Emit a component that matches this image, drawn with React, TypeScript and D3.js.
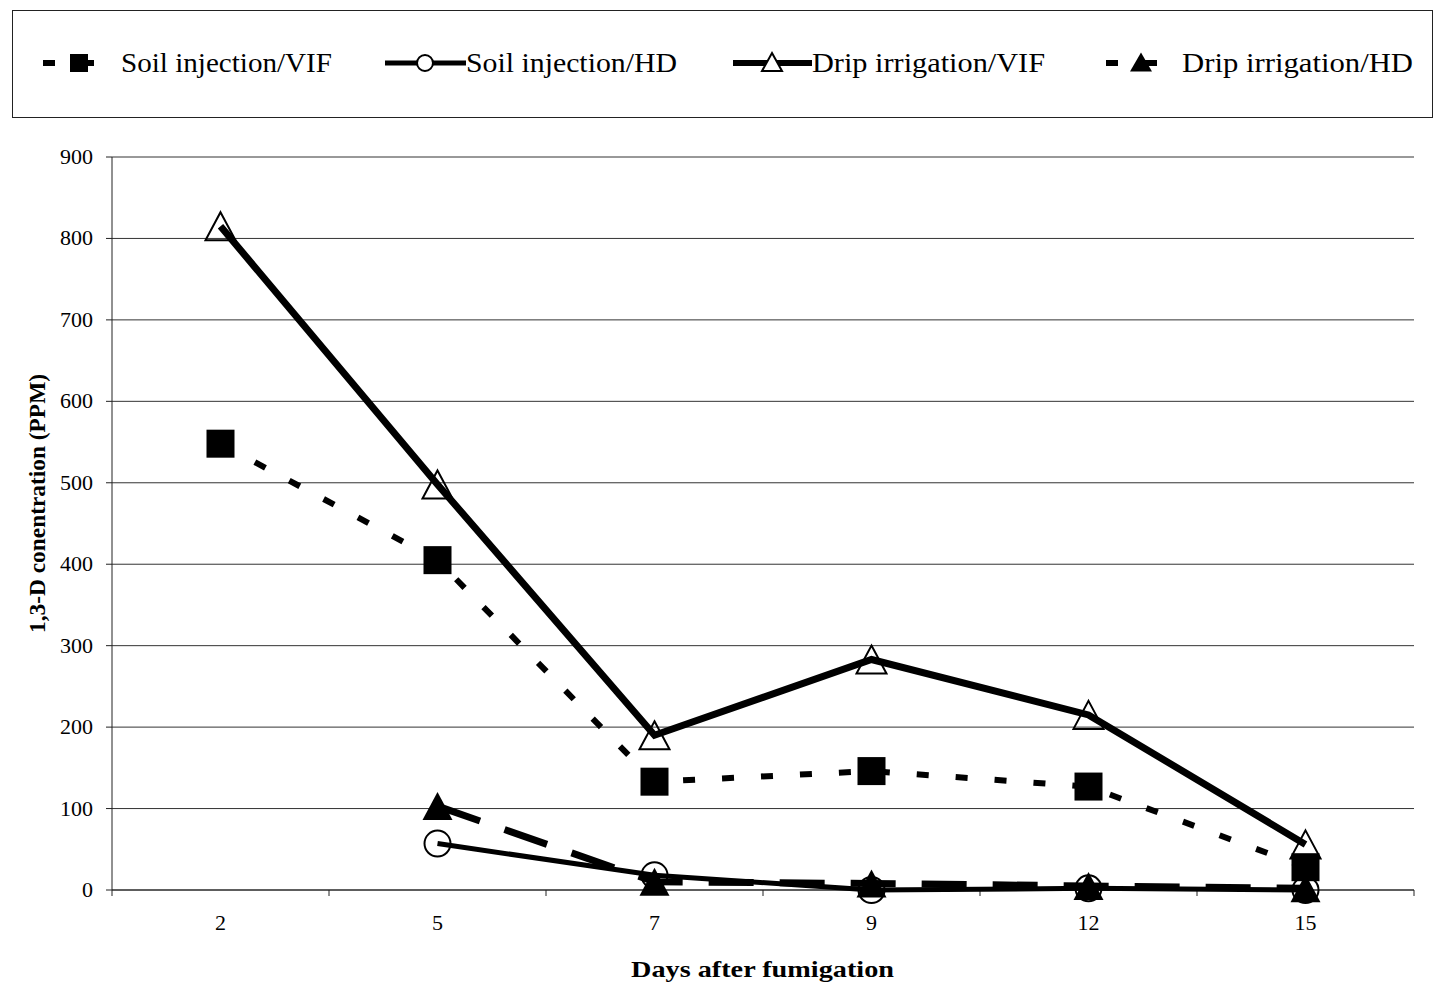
import React from "react";
import * as d3 from "d3";

const days = ["2", "5", "7", "9", "12", "15"];
const soilVIF = [548, 405, 133, 146, 127, 28];
const soilHD = [null, 57, 18, 0, 2, 0];
const dripVIF = [815, 498, 190, 283, 215, 56];
const dripHD = [null, 103, 10, 8, 5, 2];
const yTicks = [0, 100, 200, 300, 400, 500, 600, 700, 800, 900];
const legendLabels = ["Soil injection/VIF", "Soil injection/HD", "Drip irrigation/VIF", "Drip irrigation/HD"];

const W = 1443;
const H = 985;
const L = 112, R = 1414, T = 157, B = 890;
const FONT = "'Liberation Serif', 'DejaVu Serif', serif";

function tri(cx: number, cy: number, w: number, h: number) {
  return `M${cx},${cy - h / 2}L${cx + w / 2},${cy + h / 2}L${cx - w / 2},${cy + h / 2}Z`;
}

export default function App() {
  const x = d3.scaleBand<string>().domain(days).range([L, R]).paddingInner(0).paddingOuter(0);
  const bw = x.bandwidth();
  const cx = (d: string) => (x(d) as number) + bw / 2;
  const y = d3.scaleLinear().domain([0, 900]).range([B, T]);

  const mk = (vals: (number | null)[]) =>
    vals.map((v, i) => ({ d: days[i], v })).filter((p) => p.v !== null) as { d: string; v: number }[];
  const line = d3.line<{ d: string; v: number }>().x((p) => cx(p.d)).y((p) => y(p.v));

  const sVIF = mk(soilVIF), sHD = mk(soilHD), dVIF = mk(dripVIF), dHD = mk(dripHD);

  const legText = (xx: number, s: string, len: number) => (
    <text x={xx} y={72} fontSize={27} fill="#000" textLength={len} lengthAdjust="spacingAndGlyphs">{s}</text>
  );

  return (
    <svg width={W} height={H} style={{ display: "block", position: "absolute", left: 0, top: 0, background: "#fff" }} fontFamily={FONT}>
      <rect x={0} y={0} width={W} height={H} fill="#fff" />
      {/* legend */}
      <rect x={12.5} y={10.5} width={1420} height={107} fill="none" stroke="#222" strokeWidth={1} />
      <g>
        <line x1={43} x2={113} y1={63} y2={63} stroke="#000" strokeWidth={6} strokeDasharray="12 27" />
        <rect x={70} y={54} width={18} height={18} fill="#000" />
        {legText(121, legendLabels[0], 211)}
        <line x1={385} x2={466} y1={63} y2={63} stroke="#000" strokeWidth={5} />
        <circle cx={425} cy={63} r={8} fill="#fff" stroke="#000" strokeWidth={2} />
        {legText(466, legendLabels[1], 211)}
        <line x1={733} x2={812} y1={63} y2={63} stroke="#000" strokeWidth={6} />
        <path d={tri(772, 62, 20, 18)} fill="#fff" stroke="#000" strokeWidth={2} />
        {legText(812, legendLabels[2], 233)}
        <line x1={1106} x2={1176} y1={63} y2={63} stroke="#000" strokeWidth={6} strokeDasharray="12 27" />
        <path d={tri(1141, 62, 22, 19)} fill="#000" />
        {legText(1182, legendLabels[3], 231)}
      </g>

      {/* gridlines */}
      {yTicks.map((t) => (
        <line key={"g" + t} x1={L} x2={R} y1={y(t)} y2={y(t)} stroke="#333" strokeWidth={1} />
      ))}
      {/* axes */}
      <line x1={L} x2={L} y1={T} y2={B} stroke="#222" strokeWidth={1} />
      <line x1={L} x2={R} y1={B} y2={B} stroke="#222" strokeWidth={1} />
      {yTicks.map((t) => (
        <g key={"yt" + t}>
          <line x1={L - 6} x2={L} y1={y(t)} y2={y(t)} stroke="#222" />
          <text x={93} y={y(t) + 7} fontSize={22} textAnchor="end" fill="#000">{t}</text>
        </g>
      ))}
      {[...days.map((d) => x(d) as number), R].map((p, i) => (
        <line key={"xt" + i} x1={p} x2={p} y1={B} y2={B + 6} stroke="#222" />
      ))}
      {days.map((d) => (
        <text key={"xl" + d} x={cx(d)} y={930} fontSize={22} textAnchor="middle" fill="#000">{d}</text>
      ))}
      <text x={631} y={977} fontSize={24} fontWeight="bold" fill="#000" textLength={263} lengthAdjust="spacingAndGlyphs">Days after fumigation</text>
      <text transform={`translate(45,${633}) rotate(-90)`} fontSize={24} fontWeight="bold" fill="#000" textLength={259} lengthAdjust="spacingAndGlyphs">1,3-D conentration (PPM)</text>

      {/* series lines */}
      <path d={line(sVIF) || ""} fill="none" stroke="#000" strokeWidth={6} strokeDasharray="12 27" />
      <path d={line(dHD) || ""} fill="none" stroke="#000" strokeWidth={7} strokeDasharray="45 26" />
      <path d={line(sHD) || ""} fill="none" stroke="#000" strokeWidth={5} />
      <path d={line(dVIF) || ""} fill="none" stroke="#000" strokeWidth={7} />

      {/* markers */}
      {sVIF.map((p) => (
        <rect key={"sq" + p.d} x={cx(p.d) - 14} y={y(p.v) - 14} width={28} height={28} fill="#000" />
      ))}
      {sHD.map((p) => (
        <circle key={"c" + p.d} cx={cx(p.d)} cy={y(p.v)} r={13} fill="none" stroke="#000" strokeWidth={2} />
      ))}
      {dVIF.map((p) => (
        <path key={"ot" + p.d} d={tri(cx(p.d), y(p.v), 30, 28)} fill="none" stroke="#000" strokeWidth={2} />
      ))}
      {dHD.map((p) => (
        <path key={"ft" + p.d} d={tri(cx(p.d), y(p.v), 30, 28)} fill="#000" />
      ))}
    </svg>
  );
}
